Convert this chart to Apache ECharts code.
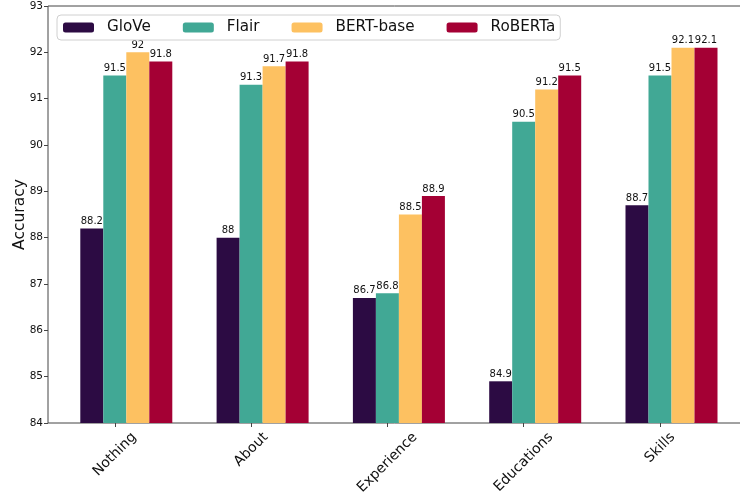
<!DOCTYPE html>
<html>
<head>
<meta charset="utf-8">
<script src="https://cdn.jsdelivr.net/npm/echarts@6/dist/echarts.min.js"></script>
<style>
html,body{margin:0;padding:0;background:#fff;}
#c{width:740px;height:493px;}
</style>
</head>
<body>
<div id="c"></div>
<script>
const categories = ['Nothing', 'About', 'Experience', 'Educations', 'Skills'];
const seriesNames = ['GloVe', 'Flair', 'BERT-base', 'RoBERTa'];
const glove = [88.2, 88, 86.7, 84.9, 88.7];
const flair = [91.5, 91.3, 86.8, 90.5, 91.5];
const bertBase = [92, 91.7, 88.5, 91.2, 92.1];
const roberta = [91.8, 91.8, 88.9, 91.5, 92.1];
const yMin = 84, yMax = 93, yStep = 1;

const colors = ['#2c0b43', '#41a895', '#fdc161', '#a40034'];
const FONT = '"DejaVu Sans", sans-serif';
const xLabelSize = 14;

// measure label widths so rotated labels are centred under ticks like matplotlib
const ctx = document.createElement('canvas').getContext('2d');
ctx.font = xLabelSize + 'px "DejaVu Sans"';
const rich = {};
categories.forEach((c, i) => {
  const L = ctx.measureText(c).width;
  rich['r' + i] = {
    fontSize: xLabelSize, fontFamily: FONT, color: '#111',
    padding: [L / 2, L / 2, 0, 0]
  };
});

const chart = echarts.init(document.getElementById('c'), null, {renderer: 'canvas'});

const valueLabel = {
  show: true, position: 'top', distance: 2,
  fontSize: 10, fontFamily: FONT, color: '#111'
};
function barSeries(name, data, color) {
  return {
    name: name, type: 'bar', data: data,
    xAxisIndex: 0, yAxisIndex: 0,
    barWidth: 23, barGap: '0%',
    itemStyle: {color: color},
    label: valueLabel
  };
}

chart.setOption({
  animation: false,
  backgroundColor: '#fff',
  grid: [
    {left: 46.65, right: 11.85, top: 6, bottom: 70, containLabel: false, outerBoundsMode: 'none'},
    {left: 48, width: 702, top: 6, bottom: 70, show: true, containLabel: false, outerBoundsMode: 'none',
     borderColor: '#444', borderWidth: 1, backgroundColor: 'transparent'}
  ],
  legend: {
    data: seriesNames,
    left: 57, top: 15,
    padding: [5, 5, 5, 6],
    itemWidth: 31, itemHeight: 10, itemGap: 32,
    borderColor: '#d0d0d0', borderWidth: 1, borderRadius: 4,
    backgroundColor: '#fff',
    textStyle: {fontSize: 15.2, fontFamily: FONT, color: '#111', padding: [0, 0, 0, 8]}
  },
  xAxis: [
    {
      type: 'category', gridIndex: 0, data: categories,
      boundaryGap: true,
      axisLine: {show: false},
      axisTick: {show: true, alignWithLabel: true, length: 4, lineStyle: {color: '#444'}},
      axisLabel: {
        interval: 0, rotate: 45, align: 'center', verticalAlign: 'middle',
        margin: 12,
        formatter: (v, i) => '{r' + i + '|' + v + '}',
        rich: rich
      },
      splitLine: {show: false}
    },
    {type: 'value', gridIndex: 1, show: false, min: 0, max: 1}
  ],
  yAxis: [
    {
      type: 'value', gridIndex: 0, min: yMin, max: yMax, interval: yStep,
      offset: -1.35,
      name: 'Accuracy', nameLocation: 'middle', nameGap: 20, nameMoveOverlap: false,
      nameTextStyle: {fontSize: 15.5, fontFamily: FONT, color: '#111'},
      axisLine: {show: false},
      axisTick: {show: true, length: 4, lineStyle: {color: '#444'}},
      axisLabel: {fontSize: 10.5, fontFamily: FONT, color: '#111', margin: 5},
      splitLine: {show: false}
    },
    {type: 'value', gridIndex: 1, show: false, min: 0, max: 1}
  ],
  series: [
    {name: 'spacer', type: 'bar', data: categories.map(() => null), xAxisIndex: 0, yAxisIndex: 0,
     barWidth: 23, barGap: '0%', silent: true},
    barSeries(seriesNames[0], glove, colors[0]),
    barSeries(seriesNames[1], flair, colors[1]),
    barSeries(seriesNames[2], bertBase, colors[2]),
    barSeries(seriesNames[3], roberta, colors[3])
  ]
});
</script>
</body>
</html>
